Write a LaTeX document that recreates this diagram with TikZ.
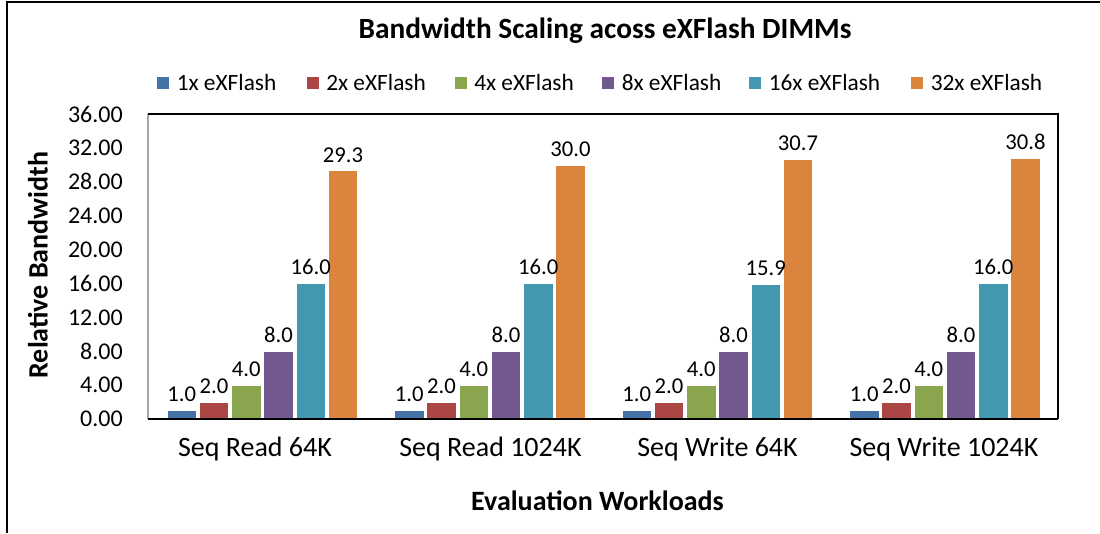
\documentclass[tikz,border=0pt]{standalone}
\usepackage{fontspec}
\setmainfont{Carlito}

\definecolor{xone}{HTML}{4572A7}
\definecolor{xtwo}{HTML}{AA4643}
\definecolor{xfour}{HTML}{89A54E}
\definecolor{xeight}{HTML}{71588F}
\definecolor{xsixteen}{HTML}{4198AF}
\definecolor{xthirtytwo}{HTML}{DB843D}

\begin{document}
\begin{tikzpicture}[x=0.75pt,y=0.75pt,
  ticklabel/.style={anchor=east,inner sep=0pt,font=\fontsize{18}{21}\selectfont},
  barlabel/.style={anchor=base,inner sep=0pt,font=\fontsize{17}{20}\selectfont},
  catlabel/.style={anchor=base,inner sep=0pt,font=\fontsize{21}{24}\selectfont},
  axtitle/.style={inner sep=0pt,font=\bfseries\fontsize{21}{25}\selectfont},
  legtext/.style={anchor=base west,inner sep=0pt,font=\fontsize{17.5}{21}\selectfont}]
\useasboundingbox (0,0) rectangle (1100,533);
\draw[line width=1.5pt] (7,0) -- (7,531) -- (1100,531);
\node[axtitle,anchor=base,font=\bfseries\fontsize{22}{26}\selectfont] (title) at (605,494) {Bandwidth Scaling acoss eXFlash DIMMs};

% legend
\foreach \x/\col/\t [count=\i] in {157/xone/1x,306.5/xtwo/2x,454.5/xfour/4x,602/xeight/8x,749/xsixteen/16x,911/xthirtytwo/32x}{
  \fill[\col] (\x,443.5) rectangle ++(12,12);
  \node[legtext] (leg\i) at (\x+19.5,442.3) {\t\ eXFlash};
}

% y axis
\foreach \i in {0,...,9}{
  \pgfmathsetmacro\ty{114+33.889*\i}
  \pgfmathtruncatemacro\tv{4*\i}
  \node[ticklabel] (tick\i) at (123,\ty) {\tv.00};
}

% bars
\foreach \g/\va/\vb/\vc/\vd/\ve/\vf/\cx/\name in {0/1.0/2.0/4.0/8.0/16.0/29.3/255/Seq Read 64K,1/1.0/2.0/4.0/8.0/16.0/30.0/490.5/Seq Read 1024K,2/1.0/2.0/4.0/8.0/15.9/30.7/717.5/Seq Write 64K,3/1.0/2.0/4.0/8.0/16.0/30.8/944/Seq Write 1024K}{
  \foreach \k/\v/\col in {0/\va/xone,1/\vb/xtwo,2/\vc/xfour,3/\vd/xeight,4/\ve/xsixteen,5/\vf/xthirtytwo}{
    \pgfmathsetmacro\bx{167+227.5*\g+32.25*\k}
    \pgfmathsetmacro\by{114+8.4722*\v}
    \fill[\col,draw=white,line width=0.4pt] (\bx,114) rectangle (\bx+29.5,\by);
  }
  \foreach \k/\v in {0/\va,1/\vb,2/\vc,3/\vd,4/\ve,5/\vf}{
    \pgfmathsetmacro\bx{167+227.5*\g+32.25*\k}
    \pgfmathsetmacro\by{114+8.4722*\v}
    \node[barlabel] (val\g\k) at (\bx+14.75,\by+8.7) {\v};
  }
  \node[catlabel] (cat\g) at (\cx,77) {\name};
}

% plot frame
\draw[gray!70,line width=1.5pt] (148,114) -- (148,419);
\draw[line width=1.2pt] (148,419) -- (1058,419) -- (1058,114);
\draw[line width=1.8pt] (148,114) -- (1058,114);

\node[axtitle,rotate=90] (ytitle) at (38,268) {Relative Bandwidth};
\node[axtitle,anchor=base] (xtitle) at (597.5,22.3) {Evaluation Workloads};
\end{tikzpicture}
\end{document}
